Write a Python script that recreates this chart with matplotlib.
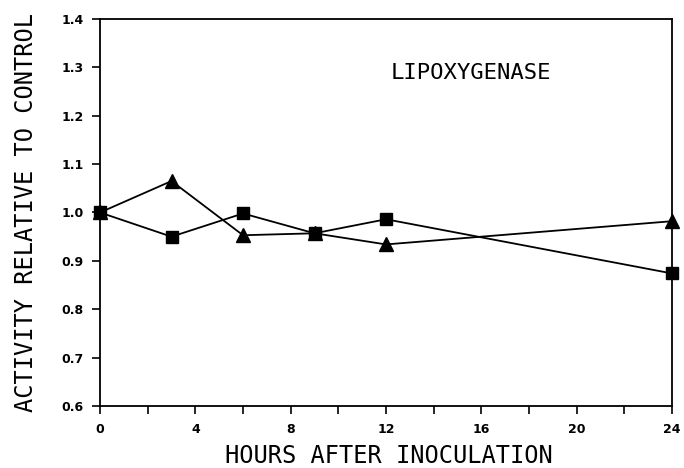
import numpy as np
import matplotlib
matplotlib.use("Agg")
import matplotlib.pyplot as plt
from matplotlib.ticker import MultipleLocator

# donnees
heures = [0, 3, 6, 9, 12, 24]
triangles = [1.000, 1.065, 0.953, 0.957, 0.934, 0.982]
carres = [1.000, 0.950, 0.998, 0.957, 0.986, 0.874]

xticks = [0, 4, 8, 12, 16, 20, 24]
yticks = [0.6, 0.7, 0.8, 0.9, 1.0, 1.1, 1.2, 1.3, 1.4]

fig = plt.figure(figsize=(6.84, 4.68), dpi=100)
ax = fig.add_axes([0.1462, 0.1325, 0.8363, 0.8269])

ax.plot(heures, triangles, "k-^", ms=10, lw=1.3, clip_on=False, zorder=3)
ax.plot(heures, carres, "k-s", ms=8.5, lw=1.3, clip_on=False, zorder=3)

ax.set_xlim(0, 24)
ax.set_ylim(0.6, 1.4)
ax.set_xticks(xticks)
ax.xaxis.set_minor_locator(MultipleLocator(2))
ax.set_yticks(yticks)
ax.set_xticklabels([str(t) for t in xticks], fontweight="bold", fontsize=9)
ax.set_yticklabels(["%.1f" % t for t in yticks], fontweight="bold", fontsize=9)
ax.tick_params(which="major", direction="out", length=6, width=1.2, pad=6)
ax.tick_params(which="minor", direction="out", length=6, width=1.2)

for s in ax.spines.values():
    s.set_linewidth(1.3)

mono = "DejaVu Sans Mono"
ax.set_xlabel("HOURS AFTER INOCULATION", family=mono, fontsize=17, va="center")
ax.set_ylabel("ACTIVITY RELATIVE TO CONTROL", family=mono, fontsize=17, va="center")
ax.xaxis.set_label_coords(0.505, -0.13)
ax.yaxis.set_label_coords(-0.129, 0.5)
ax.text(0.649, 0.86, "LIPOXYGENASE", transform=ax.transAxes, family=mono,
        fontsize=16, ha="center", va="center")

fig.savefig("out.png", dpi=100)
